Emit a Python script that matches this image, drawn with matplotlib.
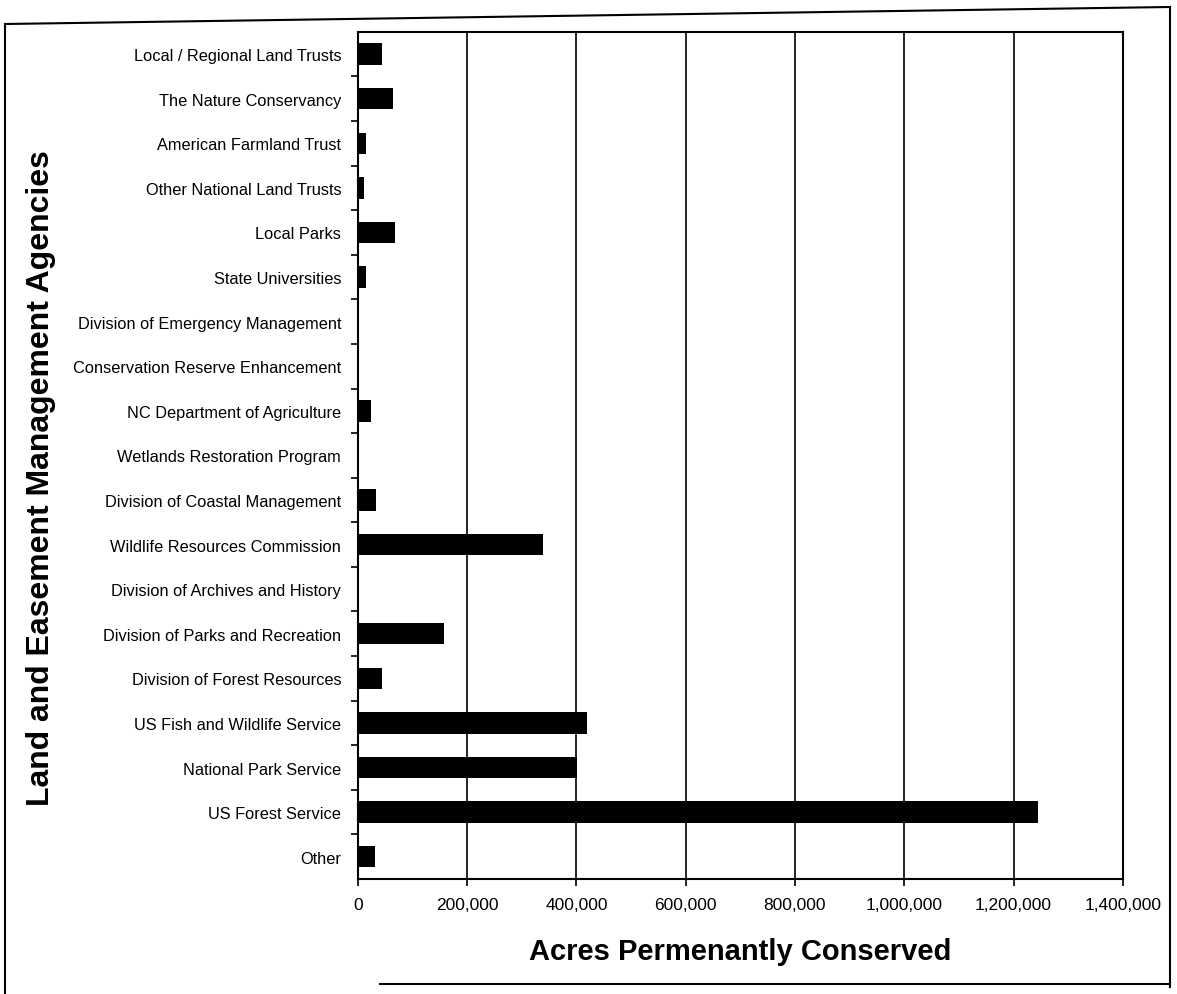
import matplotlib.pyplot as plt
from matplotlib.lines import Line2D

plt.rcParams['font.family'] = ['Liberation Sans', 'DejaVu Sans']

agencies = ['Local / Regional Land Trusts', 'The Nature Conservancy', 'American Farmland Trust',
            'Other National Land Trusts', 'Local Parks', 'State Universities',
            'Division of Emergency Management', 'Conservation Reserve Enhancement',
            'NC Department of Agriculture', 'Wetlands Restoration Program',
            'Division of Coastal Management', 'Wildlife Resources Commission',
            'Division of Archives and History', 'Division of Parks and Recreation',
            'Division of Forest Resources', 'US Fish and Wildlife Service',
            'National Park Service', 'US Forest Service', 'Other']
acres = [44000, 64000, 15000, 11000, 68000, 15000, 0, 0, 24000, 0, 33000, 338000,
         0, 158000, 45000, 420000, 402000, 1245000, 31000]
xticks = [0, 200000, 400000, 600000, 800000, 1000000, 1200000, 1400000]

fig = plt.figure(figsize=(11.77, 9.95), dpi=100)
ax = fig.add_axes([0.304, 0.1156, 0.65, 0.8514])

pos = list(range(len(agencies)))
ax.barh(pos, acres, height=0.48, color='black', zorder=3)
ax.set_ylim(len(agencies) - 0.5, -0.5)
ax.set_xlim(0, 1400000)

ax.set_yticks(pos)
ax.set_yticklabels(agencies, fontsize=11.8)
ax.set_yticks([p + 0.5 for p in pos[:-1]], minor=True)
ax.tick_params(axis='y', which='major', length=0, pad=12)
ax.tick_params(axis='y', which='minor', length=5, width=1.2, direction='out')

ax.set_xticks(xticks)
ax.set_xticklabels(['{:,}'.format(v) for v in xticks], fontsize=12.5)
ax.tick_params(axis='x', length=5, width=1.2, direction='out', pad=8)

ax.grid(True, axis='x', color='black', linewidth=1.2, zorder=0)
for s in ax.spines.values():
    s.set_linewidth(1.5)

ax.set_xlabel('Acres Permenantly Conserved', fontsize=21, fontweight='bold', labelpad=18)
fig.text(0.035, 0.52, 'Land and Easement Management Agencies', rotation=90,
         fontsize=23, fontweight='bold', ha='center', va='center')

# outer frame of the scanned page
W, H = 1177, 995
frame = [((5, 5), (25, 995)), ((5, 1170), (25, 8)), ((1170, 1170), (8, 988)), ((380, 1170), (985, 985))]
for xs, ys in frame:
    fig.add_artist(Line2D([x / W for x in xs], [1 - y / H for y in ys],
                          color='black', linewidth=1.5, transform=fig.transFigure))

fig.savefig('out.png', dpi=100)
